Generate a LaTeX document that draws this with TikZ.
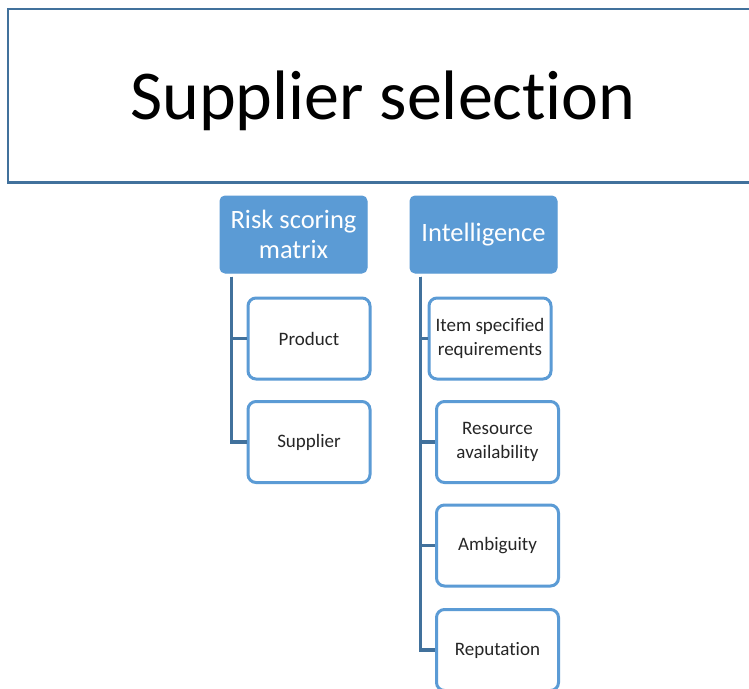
\documentclass[tikz,border=0pt]{standalone}
\usepackage{fontspec}
\setmainfont[Ligatures=CommonOff]{Carlito}
\usetikzlibrary{calc}
\definecolor{headblue}{HTML}{5B9BD5}
\definecolor{darkblue}{HTML}{41719C}
\begin{document}
\begin{tikzpicture}[x=1pt,y=-1pt,
  headbox/.style={draw=headblue,fill=headblue,rounded corners=5pt,line width=1pt,
    minimum width=147pt,minimum height=77pt,inner sep=0pt,text=white,align=center,
    font=\fontsize{26.5}{30}\selectfont},
  childbox/.style={draw=headblue,fill=white,rounded corners=8pt,line width=3pt,
    minimum width=122pt,minimum height=81pt,inner sep=0pt,text=black!85,align=center,
    font=\fontsize{19}{23.5}\selectfont},
  conn/.style={draw=darkblue,line width=3.6pt}]
\useasboundingbox (0,0) rectangle (749,688);
\clip (0,0) rectangle (749,688);
\fill[white] (0,0) rectangle (749,688);
% title box
\draw[darkblue,line width=2pt] (8,9) rectangle (770,182);
\draw[darkblue,line width=3.5pt] (7,182.5) -- (770,182.5);
\node[anchor=base,font=\fontsize{70}{84}\selectfont] (title) at (383,119) {Supplier selection};
% heads
\node[headbox] (risk) at (293.5,234.5) {Risk scoring\\matrix};
\node[headbox] (intel) at (483.5,234.5) {Intelligence};
% children of risk
\node[childbox] (product) at (309,338.5) {Product};
\node[childbox] (supplier) at (309,442) {Supplier};
% children of intelligence
\node[childbox] (item) at (490,338.5) {Item specified\\requirements};
\node[childbox] (resource) at (497.5,442) {Resource\\availability};
\node[childbox] (ambig) at (497.5,545.5) {Ambiguity};
\node[childbox] (reput) at (497.5,650) {Reputation};
% connectors
\coordinate (rtop) at ($(risk.south west)+(12,3)$);
\coordinate (itop) at ($(intel.south west)+(11,3)$);
\draw[conn] (rtop) |- (product.west);
\draw[conn] (rtop) |- (supplier.west);
\draw[conn] (itop) |- (item.west);
\draw[conn] (itop) |- (resource.west);
\draw[conn] (itop) |- (ambig.west);
\draw[conn] (itop) |- (reput.west);
\end{tikzpicture}
\end{document}
